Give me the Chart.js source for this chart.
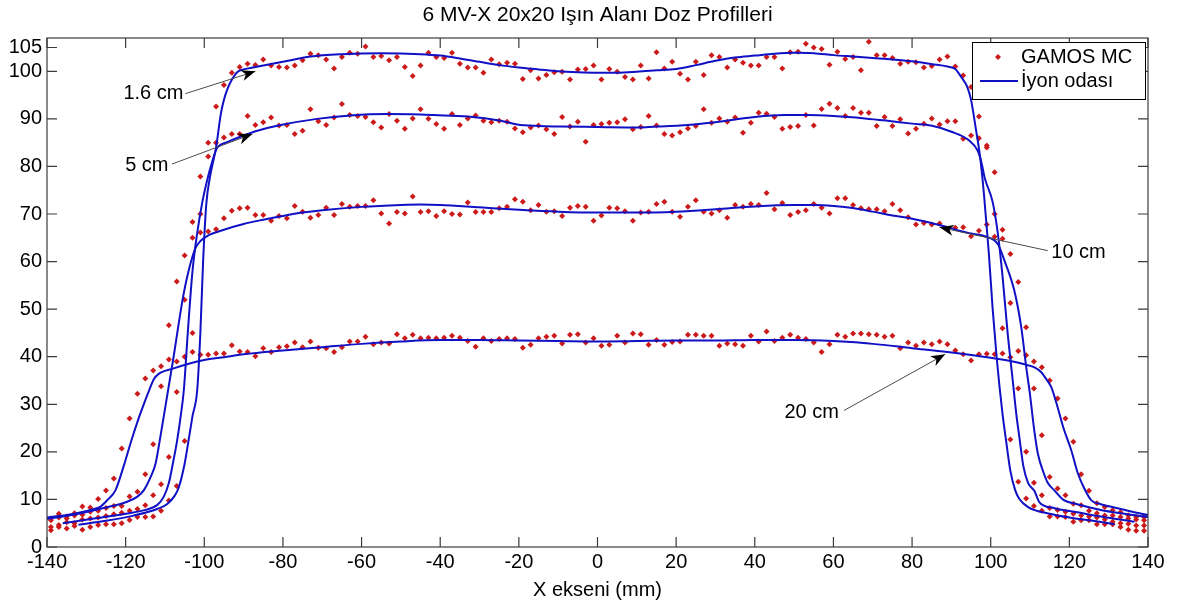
<!DOCTYPE html>
<html><head><meta charset="utf-8">
<script src="https://cdn.jsdelivr.net/npm/chart.js@4.4.1/dist/chart.umd.min.js"></script>
<style>html,body{margin:0;padding:0;background:#fff}canvas{display:block}</style>
</head><body>
<canvas id="c" width="1178" height="608"></canvas>
<script>
const chartTitle = '6 MV-X 20x20 Işın Alanı Doz Profilleri';
const xAxisLabel = 'X ekseni (mm)';
const mcName = 'GAMOS MC';
const ionName = 'İyon odası';
const depthLabels = ['1.6 cm', '5 cm', '10 cm', '20 cm'];
const xTicks = [-140,-120,-100,-80,-60,-40,-20,0,20,40,60,80,100,120,140];
const yTicks = [0,10,20,30,40,50,60,70,80,90,100,105];

// GAMOS MC sample positions (mm)
const mcX = [
 -139,-137,-135,-133,-131,-129,-127,-125,-123,-121,
 -119,-117,-115,-113,-111,-109,-107,-105,-103,-101,
 -99,-97,-95,-93,-91,-89,-87,-85,-83,-81,
 -79,-77,-75,-73,-71,-69,-67,-65,-63,-61,
 -59,-57,-55,-53,-51,-49,-47,-45,-43,-41,
 -39,-37,-35,-33,-31,-29,-27,-25,-23,-21,
 -19,-17,-15,-13,-11,-9,-7,-5,-3,-1,
 1,3,5,7,9,11,13,15,17,19,
 21,23,25,27,29,31,33,35,37,39,
 41,43,45,47,49,51,53,55,57,59,
 61,63,65,67,69,71,73,75,77,79,
 81,83,85,87,89,91,93,95,97,99,
 101,103,105,107,109,111,113,115,117,119,
 121,123,125,127,129,131,133,135,137,139];

const mc16 = [
 3.5,4.2,3.9,4.4,3.6,4.2,4.6,4.8,4.8,5.0,
 5.7,6.3,6.3,6.4,7.6,9.8,12.8,22.3,45.0,70.0,
 85.0,92.6,97.1,99.7,100.9,101.6,101.3,102.5,101.2,100.9,
 100.8,101.2,102.3,103.7,103.4,102.5,100.6,103.0,103.9,103.7,
 105.2,103.0,103.2,102.3,103.0,100.9,99.0,101.2,103.9,103.0,
 102.8,103.9,101.6,100.8,100.8,99.7,102.5,101.5,101.8,101.6,
 98.4,100.2,98.5,99.2,99.8,99.9,98.3,100.4,100.5,101.2,
 98.3,100.5,99.9,98.8,98.3,101.2,98.5,104.0,100.6,102.0,
 99.5,98.3,102.0,99.2,103.4,103.0,100.8,102.5,101.8,101.2,
 101.2,103.0,103.0,100.6,104.0,104.1,105.8,105.0,104.7,101.4,
 104.1,102.6,103.0,100.2,106.2,103.4,103.4,102.8,101.6,102.0,
 101.9,100.8,101.1,102.5,103.1,101.0,99.1,96.7,90.5,84.4,
 70.0,46.0,22.6,13.7,10.2,8.6,7.6,6.4,6.4,6.3,
 5.3,5.6,5.6,4.8,4.8,4.8,4.2,3.6,3.4,3.4];

const mc5 = [
 4.2,4.6,5.2,5.0,5.8,6.0,6.2,6.5,6.9,7.2,
 7.6,8.0,8.8,10.9,13.2,18.9,32.6,52.0,68.3,77.9,
 82.1,85.0,86.1,86.8,86.8,90.6,88.7,89.3,90.3,88.6,
 88.7,86.8,87.5,92.0,89.5,88.7,90.3,93.1,90.8,90.6,
 90.4,89.3,88.2,91.0,89.6,87.9,90.1,92.0,90.0,88.9,
 87.9,91.0,88.7,90.1,90.7,89.6,89.3,89.6,89.4,88.0,
 87.2,88.2,88.6,87.8,86.8,90.4,88.4,89.4,85.2,88.7,
 88.9,89.2,89.3,89.9,87.8,88.3,90.6,88.6,86.8,86.5,
 87.2,88.0,88.5,92.0,89.2,90.1,89.4,90.3,87.1,89.2,
 91.3,91.1,90.4,87.9,88.3,88.5,90.8,88.6,92.1,93.2,
 92.3,90.6,92.3,91.3,91.3,88.5,90.4,88.5,89.9,86.9,
 87.9,89.0,90.1,88.8,89.5,89.5,85.8,86.5,85.9,84.0,
 78.8,66.7,51.3,33.3,20.0,13.5,10.9,8.2,7.8,7.4,
 7.0,6.6,6.4,6.2,5.8,5.3,5.0,4.9,4.5,4.5];

const mc10 = [
 5.6,6.2,6.0,6.6,6.8,7.4,7.6,8.2,8.6,8.6,
 10.6,11.6,15.3,21.6,33.8,46.6,55.8,61.3,65.0,66.1,
 66.3,66.8,69.1,70.7,71.2,71.3,69.8,69.8,68.6,69.6,
 69.1,71.7,70.5,69.2,69.8,71.3,69.8,72.1,71.5,71.7,
 71.7,72.9,70.1,68.0,70.4,70.1,73.7,70.4,70.6,69.6,
 70.6,70.0,69.9,72.4,70.4,70.4,70.4,71.2,71.5,73.1,
 72.6,70.8,71.9,70.5,70.6,69.6,71.3,71.7,71.5,68.6,
 69.7,71.3,71.2,70.6,68.6,70.3,70.5,72.1,72.6,70.5,
 69.4,71.5,72.9,70.5,70.1,70.8,69.2,71.9,71.5,72.1,
 71.9,74.4,71.0,72.3,69.8,70.4,70.8,72.1,71.3,70.1,
 73.3,73.3,71.9,71.2,71.0,71.0,70.6,72.1,70.8,69.3,
 67.8,68.1,67.8,68.0,66.7,67.1,67.2,65.3,66.5,67.8,
 65.2,64.8,61.6,55.7,46.2,33.3,23.5,14.7,12.3,10.9,
 9.1,8.8,7.6,7.1,6.6,6.6,6.3,6.0,5.8,5.6];

const mc20 = [
 6.0,7.0,6.4,7.1,8.5,8.3,10.1,11.9,14.4,20.7,
 27.0,32.2,35.4,37.1,38.0,39.4,39.0,40.0,41.0,40.4,
 40.4,40.7,40.7,42.4,41.1,41.0,40.1,41.8,41.0,42.0,
 42.2,43.0,42.0,43.2,41.9,41.8,41.0,42.0,43.2,43.2,
 44.2,42.6,43.0,42.8,44.7,43.9,44.6,43.9,44.0,43.9,
 44.0,44.4,44.0,43.3,42.1,43.9,43.3,43.7,43.9,43.7,
 41.9,42.5,43.9,44.2,44.4,42.8,44.6,44.7,43.0,43.9,
 42.3,42.5,44.4,43.0,44.9,44.7,42.5,43.5,42.5,43.1,
 43.2,44.6,44.6,44.4,44.4,42.3,42.8,42.6,42.3,44.4,
 43.2,45.3,43.3,44.0,44.6,44.0,43.7,43.0,41.0,42.6,
 44.6,44.2,44.9,44.9,44.7,44.6,44.2,44.4,41.8,43.0,
 42.3,43.0,42.6,43.2,42.6,41.3,40.5,39.2,40.5,40.6,
 40.5,40.7,39.9,41.2,40.3,39.0,37.8,35.0,31.2,27.0,
 22.1,15.3,11.8,9.2,8.4,7.7,7.3,6.7,6.3,6.3];

// Ion chamber profiles (x in mm, relative dose)
const ion16X = [-132,-125,-118,-112,-109.5,-107.5,-106.5,-105,-104,-103,-101.8,-101,-100.3,-99.5,-98.5,-97,-95.8,-95,-94,-93,-91.5,-90,-87,-80,-73,-65,-55,-45,-40,-35,-30,-25,-20,-15,-10,-5,0,5,10,15,20,25,30,35,40,45,50,55,60,65,70,75,80,85,89,91,92.5,94,95,96.2,97.3,98.3,99.5,100.5,101.5,102.2,103,103.9,105,106.2,107.2,109.5,115,120,126,131.5];
const ion16Y = [4.7,5.5,6.6,8.0,9.0,10.8,12.5,17.5,22.4,27.5,33,45,60,72,78,84,91,94,96.5,98.2,99.9,100.4,100.9,102,103.1,103.6,103.8,103.6,103.3,102.7,102,101.3,100.8,100.4,100,99.8,99.7,99.7,99.9,100.2,100.5,101.3,102.2,102.9,103.3,103.7,103.9,103.8,103.4,103.1,102.8,102.5,102.1,101.5,101,100.5,98.8,96.8,94,88,82,74,62,50,40,34,28,22.4,16,12,10.2,8.4,7.0,6.2,5.5,4.8];
const ion5X = [-136,-128,-120,-115,-112,-110.3,-109,-108,-106.9,-106,-105.2,-104.2,-103,-101.8,-100.5,-99,-97.8,-97,-96.3,-94.2,-90,-86.5,-80.6,-71.3,-62.8,-53.5,-45,-41.6,-33,-24.6,-20.4,-15,-10,0,10,15,21,30,40,47.5,53.5,60,68,73.8,80,84.8,90,94.6,96.7,97.6,98.5,100.5,101.8,103,104.3,105.6,106.5,107.3,108.3,109.5,111.1,112.4,116,122,128,136.6];
const ion5Y = [5.0,6.0,7.0,7.8,8.8,10.6,13.5,17.5,22.4,27.5,33,45,58,66,72.5,78,81.5,83.5,84.3,85.1,86.5,87.5,88.7,90,90.7,91.0,90.9,90.8,90.5,89.6,88.8,88.5,88.4,88.3,88.2,88.4,88.6,89.3,90.4,90.8,90.8,90.6,90.1,89.6,89.0,88.6,87.3,85.4,83.3,81,77.5,72.5,66,57,45,35,28,23,17,13.5,11.8,9.4,8.2,7.3,6.4,5.3];
const ion10X = [-140,-132,-125,-120,-117,-115.4,-113.5,-112.4,-111,-109.8,-108.8,-107.8,-106.5,-105.3,-104,-102.3,-101,-99,-95,-90,-85,-80,-75,-70,-60,-50,-45,-40,-30,-20,-10,0,10,20,30,40,50,55,60,64.4,70,75,80,87.4,92,95,99.3,101.8,103.5,106,107.8,109,110,111,112,113.5,114.5,116.2,118.5,122,128,134,140];
const ion10Y = [5.9,7.0,8.3,9.4,10.6,11.9,15,17.5,24,30,35,40,47,53,58,62.7,64.3,65.5,66.7,67.9,68.8,69.6,70.3,70.8,71.5,71.9,72.0,71.9,71.4,70.9,70.5,70.3,70.3,70.5,71.0,71.6,71.9,71.9,71.7,71.3,70.5,69.7,69.0,67.6,66.5,65.9,65.1,63.7,60.2,53.9,46,38,32,25,19.6,15.5,13.5,11.9,9.9,9.0,7.8,7.0,6.3];
const ion20X = [-140,-133,-128,-126.4,-124.5,-122.6,-120.5,-118.5,-116.5,-115.4,-114,-112.8,-111.6,-108,-100,-95,-90,-80,-70,-60,-50,-40,-30,-20,-10,0,10,20,30,40,50,60,64.4,70,80,89,100,105,108.6,111,112.8,114.2,115.4,116.8,118.5,120.5,122.2,123.8,125.6,128,132,136,140];
const ion20Y = [6.2,7.0,8.0,8.5,10,11.9,17,22.5,27.5,30,33,35.3,36.4,37.5,39.3,39.9,40.5,41.3,42,42.7,43.2,43.5,43.5,43.4,43.3,43.2,43.3,43.4,43.4,43.5,43.5,43.3,43.1,42.7,41.8,41,39.8,39.1,38.4,37.8,36.8,35.2,33.6,30,25,20.3,15.4,12.3,9.8,9.0,8.2,7.4,6.7];

// Annotation anchors in data units: label point, arrow start, arrow tip
const notes = [
  {text: depthLabels[0], at: [-105.3, 95.3], align: 'right', from: [-104.8, 95.3], to: [-87.0, 100.0]},
  {text: depthLabels[1], at: [-109.1, 80.3], align: 'right', from: [-108.2, 80.5], to: [-87.8, 86.8]},
  {text: depthLabels[2], at: [115.4, 61.9], align: 'left', from: [114.5, 62.3], to: [87.0, 67.2]},
  {text: depthLabels[3], at: [61.4, 28.3], align: 'right', from: [62.7, 28.7], to: [88.4, 40.5]}
];

const FONT = "'Liberation Sans', Arial, Helvetica, sans-serif";
const BLUE = '#1010c4';
const RED = '#cc1a1a';
const pair = (xs, ys) => xs.map((v, i) => ({x: v, y: ys[i]}));

Chart.defaults.font.family = FONT;

function lineSet(xs, ys, name) {
  return {label: name, data: pair(xs, ys), showLine: true, borderColor: BLUE, borderWidth: 2,
    pointRadius: 0, cubicInterpolationMode: 'monotone', fill: false, order: 0};
}
function dotSet(ys, name) {
  return {label: name, data: pair(mcX, ys), showLine: false, pointStyle: 'rectRot',
    pointRadius: 3, backgroundColor: RED, borderColor: RED, borderWidth: 0, order: 1};
}

function drawArrow(ctx, x0, y0, x1, y1) {
  ctx.strokeStyle = '#4a4a4a';
  ctx.lineWidth = 1;
  ctx.beginPath(); ctx.moveTo(x0, y0); ctx.lineTo(x1, y1); ctx.stroke();
  const ang = Math.atan2(y1 - y0, x1 - x0);
  ctx.save();
  ctx.translate(x1, y1); ctx.rotate(ang);
  ctx.fillStyle = '#000';
  ctx.beginPath();
  ctx.moveTo(0, 0); ctx.lineTo(-14, -5.5); ctx.lineTo(-10, 0); ctx.lineTo(-14, 5.5);
  ctx.closePath(); ctx.fill();
  ctx.restore();
}

const decor = {
  id: 'decor',
  afterDatasetsDraw(chart) {
    const {ctx, chartArea: a, scales: {x, y}} = chart;
    ctx.save();
    ctx.strokeStyle = '#3c3c3c';
    ctx.lineWidth = 1.2;
    ctx.strokeRect(a.left, a.top, a.right - a.left, a.bottom - a.top);
    ctx.beginPath();
    for (const v of xTicks) {
      const px = x.getPixelForValue(v);
      ctx.moveTo(px, a.bottom); ctx.lineTo(px, a.bottom - 10);
      ctx.moveTo(px, a.top); ctx.lineTo(px, a.top + 10);
    }
    for (const v of yTicks) {
      const py = y.getPixelForValue(v);
      ctx.moveTo(a.left, py); ctx.lineTo(a.left + 10, py);
      ctx.moveTo(a.right, py); ctx.lineTo(a.right - 10, py);
    }
    ctx.stroke();
    ctx.font = '20px ' + FONT;
    ctx.textBaseline = 'middle';
    for (const n of notes) {
      drawArrow(ctx, x.getPixelForValue(n.from[0]), y.getPixelForValue(n.from[1]),
                     x.getPixelForValue(n.to[0]), y.getPixelForValue(n.to[1]));
      ctx.fillStyle = '#000';
      ctx.textAlign = n.align;
      ctx.fillText(n.text, x.getPixelForValue(n.at[0]), y.getPixelForValue(n.at[1]));
    }
    ctx.restore();
  },
  afterDraw(chart) {
    const {ctx, chartArea: a} = chart;
    ctx.save();
    ctx.fillStyle = '#000';
    ctx.font = '21px ' + FONT;
    ctx.textAlign = 'center';
    ctx.textBaseline = 'middle';
    ctx.fillText(chartTitle, (a.left + a.right) / 2, 15);
    const lw = 173, lh = 57;
    const lx = a.right - lw - 3, ly = a.top + 4;
    ctx.fillStyle = '#fff';
    ctx.fillRect(lx, ly, lw, lh);
    ctx.strokeStyle = '#000';
    ctx.lineWidth = 1;
    ctx.strokeRect(lx + 0.5, ly + 0.5, lw, lh);
    const r1 = ly + 15, r2 = ly + 39;
    ctx.fillStyle = RED;
    ctx.beginPath();
    ctx.moveTo(lx + 26, r1 - 3); ctx.lineTo(lx + 29, r1); ctx.lineTo(lx + 26, r1 + 3); ctx.lineTo(lx + 23, r1);
    ctx.closePath(); ctx.fill();
    ctx.strokeStyle = BLUE;
    ctx.lineWidth = 2;
    ctx.beginPath(); ctx.moveTo(lx + 8, r2); ctx.lineTo(lx + 46, r2); ctx.stroke();
    ctx.fillStyle = '#000';
    ctx.font = '20px ' + FONT;
    ctx.textAlign = 'left';
    ctx.fillText(mcName, lx + 49, r1);
    ctx.fillText(ionName, lx + 49, r2);
    ctx.restore();
  }
};

new Chart(document.getElementById('c'), {
  type: 'scatter',
  data: {
    datasets: [
      lineSet(ion16X, ion16Y, ionName + ' ' + depthLabels[0]),
      lineSet(ion5X, ion5Y, ionName + ' ' + depthLabels[1]),
      lineSet(ion10X, ion10Y, ionName + ' ' + depthLabels[2]),
      lineSet(ion20X, ion20Y, ionName + ' ' + depthLabels[3]),
      dotSet(mc16, mcName + ' ' + depthLabels[0]),
      dotSet(mc5, mcName + ' ' + depthLabels[1]),
      dotSet(mc10, mcName + ' ' + depthLabels[2]),
      dotSet(mc20, mcName + ' ' + depthLabels[3])
    ]
  },
  options: {
    responsive: false,
    animation: false,
    devicePixelRatio: 1,
    events: [],
    layout: {padding: {left: 0, top: 38, right: 30, bottom: 0}},
    plugins: {legend: {display: false}, title: {display: false}, tooltip: {enabled: false}},
    scales: {
      x: {
        type: 'linear', min: -140, max: 140,
        grid: {display: false, drawTicks: false},
        border: {display: false},
        afterBuildTicks: s => { s.ticks = xTicks.map(v => ({value: v})); },
        afterFit: s => { s.height = 61; },
        ticks: {autoSkip: false, maxRotation: 0, padding: 3, color: '#000', font: {size: 20},
                callback: v => String(v)},
        title: {display: true, text: xAxisLabel, color: '#000', font: {size: 20}, padding: {top: 0, bottom: 6}}
      },
      y: {
        type: 'linear', min: 0, max: 107,
        grid: {display: false, drawTicks: false},
        border: {display: false},
        afterBuildTicks: s => { s.ticks = yTicks.map(v => ({value: v})); },
        afterFit: s => { s.width = 47; },
        ticks: {autoSkip: false, padding: 5, color: '#000', font: {size: 20},
                callback: v => String(v)}
      }
    }
  },
  plugins: [decor]
});
</script>
</body></html>
